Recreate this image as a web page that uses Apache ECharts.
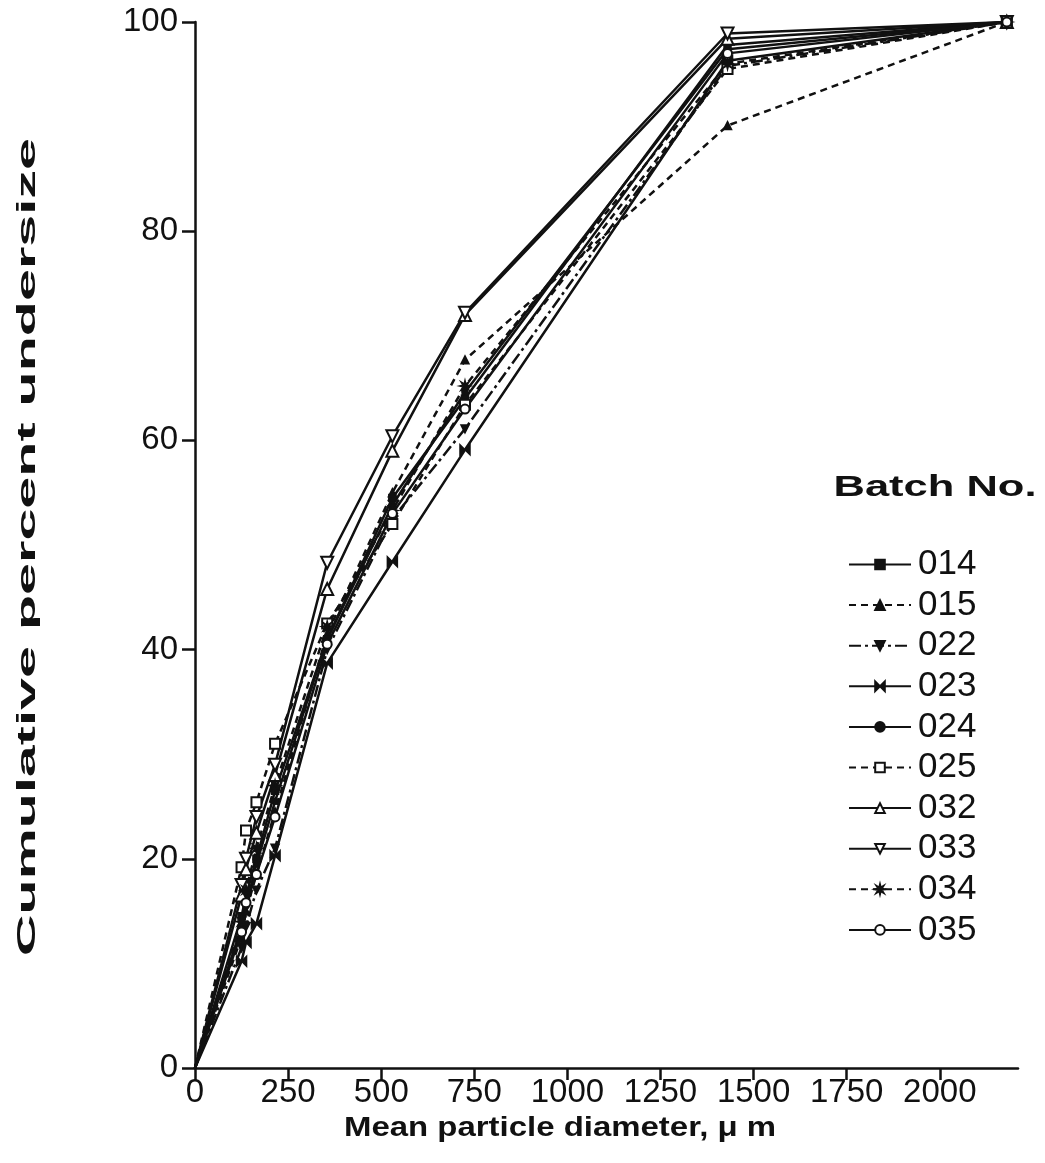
<!DOCTYPE html>
<html>
<head>
<meta charset="utf-8">
<title>Cumulative particle size distribution</title>
<script src="https://cdn.jsdelivr.net/npm/echarts@6/dist/echarts.min.js"></script>
<style>
  html, body { margin: 0; padding: 0; background: #fff; }
  #chart { width: 1045px; height: 1163px; }
</style>
</head>
<body>
<div id="chart"></div>
<script>
// Mean particle diameter of each sieve fraction (µm)
const diameters = [0, 125, 137, 165, 215, 355, 530, 725, 1430, 2180];

// Cumulative percent undersize for each batch
const batch014 = [0, 14.5, 16.5, 20.0, 26.5, 41.0, 54.5, 64.0, 97.8, 100];
const batch015 = [0, 12.5, 15.0, 18.5, 24.5, 41.5, 55.0, 67.7, 90.1, 100];
const batch022 = [0, 11.5, 13.5, 17.0, 21.0, 40.0, 52.5, 61.1, 95.8, 100];
const batch023 = [0, 10.2, 12.0, 13.8, 20.3, 38.7, 48.4, 59.1, 96.3, 100];
const batch024 = [0, 13.5, 15.5, 19.5, 25.5, 41.0, 53.8, 64.6, 97.4, 100];
const batch025 = [0, 19.2, 22.7, 25.4, 31.0, 42.5, 52.0, 63.4, 95.5, 100];
const batch032 = [0, 16.5, 19.0, 22.5, 28.0, 45.8, 59.0, 72.0, 98.4, 100];
const batch033 = [0, 17.5, 20.0, 24.0, 29.0, 48.3, 60.4, 72.2, 98.9, 100];
const batch034 = [0, 14.0, 17.0, 21.0, 27.0, 42.2, 53.3, 65.2, 96.0, 100];
const batch035 = [0, 13.0, 15.8, 18.5, 24.0, 40.5, 53.0, 63.0, 97.0, 100];

const batchNames = ['014', '015', '022', '023', '024', '025', '032', '033', '034', '035'];
const batchValues = [batch014, batch015, batch022, batch023, batch024,
                     batch025, batch032, batch033, batch034, batch035];

// Axis ticks
const xTicks = [0, 250, 500, 750, 1000, 1250, 1500, 1750, 2000];
const yTicks = [0, 20, 40, 60, 80, 100];

const INK = '#111';
const FONT = "'Liberation Sans', Arial, Helvetica, sans-serif";

const STAR = 'path://M5,0 L5.77,3.15 L8.54,1.46 L6.85,4.23 L10,5 L6.85,5.77 L8.54,8.54 ' +
             'L5.77,6.85 L5,10 L4.23,6.85 L1.46,8.54 L3.15,5.77 L0,5 L3.15,4.23 L1.46,1.46 L4.23,3.15 Z';
const BOWTIE = 'path://M0,0 L5,5 L0,10 Z M10,0 L5,5 L10,10 Z';

// Marker and line style for each batch, in batchNames order
const styles = [
  { symbol: 'rect',          size: 7,  rotate: 0,   dash: 'solid' },
  { symbol: 'triangle',      size: 8,  rotate: 0,   dash: [7, 5] },
  { symbol: 'triangle',      size: 8,  rotate: 180, dash: [12, 4, 3, 4] },
  { symbol: BOWTIE,          size: 10, rotate: 0,   dash: 'solid' },
  { symbol: 'circle',        size: 6,  rotate: 0,   dash: 'solid' },
  { symbol: 'emptyRect',     size: 10, rotate: 0,   dash: [7, 5] },
  { symbol: 'emptyTriangle', size: 12, rotate: 0,   dash: 'solid' },
  { symbol: 'emptyTriangle', size: 12, rotate: 180, dash: 'solid' },
  { symbol: STAR,            size: 11, rotate: 0,   dash: [7, 5] },
  { symbol: 'emptyCircle',   size: 9,  rotate: 0,   dash: 'solid' }
];

// Every curve starts at the origin, which carries no marker
const series = batchNames.map((name, i) => ({
  name: name,
  type: 'line',
  data: diameters.map((d, j) => j === 0
    ? { value: [d, batchValues[i][j]], symbol: 'none' }
    : [d, batchValues[i][j]]),
  symbol: styles[i].symbol,
  symbolSize: styles[i].size,
  symbolRotate: styles[i].rotate,
  showAllSymbol: true,
  lineStyle: { color: INK, width: 2.5, type: styles[i].dash },
  itemStyle: { color: INK, borderColor: INK, borderWidth: 1.5 },
  emphasis: { disabled: true },
  animation: false
}));

const chart = echarts.init(document.getElementById('chart'), null, { renderer: 'canvas' });

chart.setOption({
  backgroundColor: '#fff',
  animation: false,
  grid: { left: 195, right: 27, top: 22, bottom: 95, containLabel: false },
  xAxis: {
    type: 'value',
    min: 0,
    max: 2210,
    interval: 250,
    axisLine: { show: true, onZero: false, lineStyle: { color: INK, width: 2.5 } },
    axisTick: { show: true, length: 12, inside: false, customValues: xTicks,
                lineStyle: { color: INK, width: 2.5 } },
    axisLabel: { customValues: xTicks, formatter: v => String(v),
                 color: INK, fontSize: 33, fontFamily: FONT, margin: 8 },
    splitLine: { show: false }
  },
  yAxis: {
    type: 'value',
    min: 0,
    max: 100,
    interval: 20,
    axisLine: { show: true, onZero: false, lineStyle: { color: INK, width: 2.5 } },
    axisTick: { show: true, length: 13, inside: false, customValues: yTicks,
                lineStyle: { color: INK, width: 2.5 } },
    axisLabel: { customValues: yTicks, formatter: v => String(v),
                 color: INK, fontSize: 33, fontFamily: FONT, margin: 17 },
    splitLine: { show: false }
  },
  legend: {
    orient: 'vertical',
    left: 843,
    top: 542,
    itemWidth: 62,
    itemHeight: 12,
    itemGap: 5.6,
    selectedMode: false,
    data: batchNames,
    textStyle: { color: INK, fontSize: 35, lineHeight: 34, fontFamily: FONT, padding: [0, 0, 0, 2] }
  },
  graphic: [
    {
      type: 'text',
      x: 28, y: 547,
      rotation: Math.PI / 2,
      scaleX: 2.3,
      style: {
        text: 'Cumulative percent undersize',
        font: 'bold 25px ' + FONT,
        fill: INK,
        textAlign: 'center',
        textVerticalAlign: 'middle'
      }
    },
    {
      type: 'text',
      x: 560, y: 1129,
      scaleX: 1.22,
      style: {
        text: 'Mean particle diameter, \u03bc m',
        font: 'bold 27px ' + FONT,
        fill: INK,
        textAlign: 'center',
        textVerticalAlign: 'middle'
      }
    },
    {
      type: 'text',
      x: 935, y: 488,
      scaleX: 1.5,
      style: {
        text: 'Batch No.',
        font: 'bold 29px ' + FONT,
        fill: INK,
        textAlign: 'center',
        textVerticalAlign: 'middle'
      }
    }
  ],
  series: series
});
</script>
</body>
</html>
